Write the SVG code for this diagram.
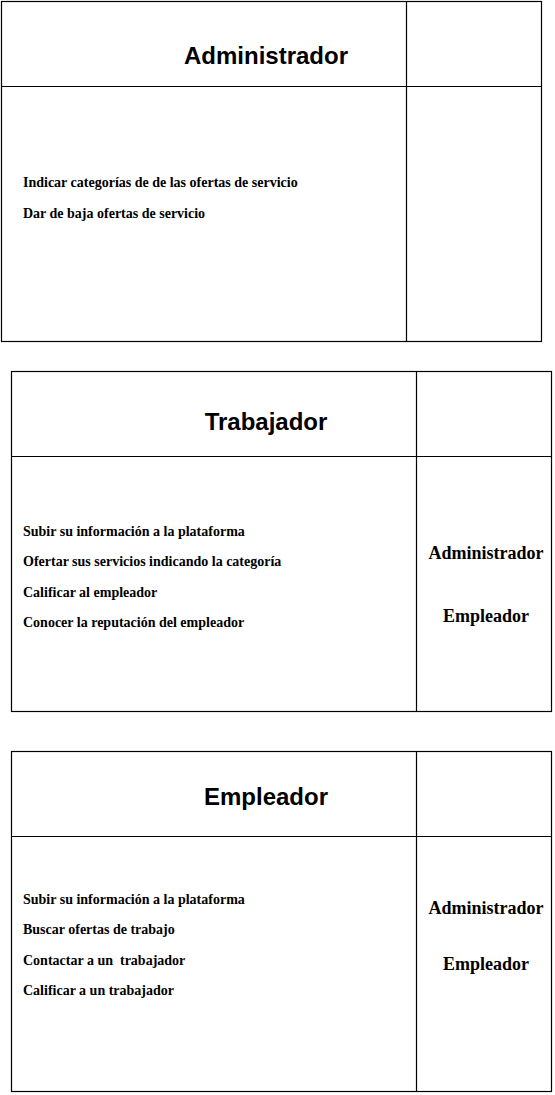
<svg xmlns="http://www.w3.org/2000/svg" width="555" height="1095" viewBox="0 0 555 1095">
<style>
.box{fill:#fff;stroke:#000;stroke-width:1.2}
.ln{stroke:#000;stroke-width:1.2;fill:none}
.title{font-family:"Liberation Sans",Arial,sans-serif;font-weight:bold;font-size:24px;fill:#000;text-anchor:middle}
.item{font-family:"Liberation Serif","Times New Roman",serif;font-weight:bold;font-size:14px;fill:#000}
.actor{font-family:"Liberation Serif","Times New Roman",serif;font-weight:bold;font-size:18px;fill:#000;text-anchor:middle}
</style>
<rect width="555" height="1095" fill="#fff"/>
<g id="card-administrador">
<rect class="box" x="1.5" y="1.5" width="540" height="340"/>
<line class="ln" x1="406.5" y1="1.5" x2="406.5" y2="341.5"/>
<line class="ln" x1="1.5" y1="86.5" x2="541.5" y2="86.5"/>
<text class="title" x="266" y="64">Administrador</text>
<text class="item" x="23" y="187">Indicar categorías de de las ofertas de servicio</text>
<text class="item" x="23" y="218">Dar de baja ofertas de servicio</text>
</g>
<g id="card-trabajador">
<rect class="box" x="11.5" y="371.5" width="540" height="340"/>
<line class="ln" x1="416.5" y1="371.5" x2="416.5" y2="711.5"/>
<line class="ln" x1="11.5" y1="456.5" x2="551.5" y2="456.5"/>
<text class="title" x="266" y="430">Trabajador</text>
<text class="item" x="23" y="536">Subir su información a la plataforma</text>
<text class="item" x="23" y="566">Ofertar sus servicios indicando la categoría</text>
<text class="item" x="23" y="597">Calificar al empleador</text>
<text class="item" x="23" y="627">Conocer la reputación del empleador</text>
<text class="actor" x="486" y="559">Administrador</text>
<text class="actor" x="486" y="622">Empleador</text>
</g>
<g id="card-empleador">
<rect class="box" x="11.5" y="751.5" width="540" height="340"/>
<line class="ln" x1="416.5" y1="751.5" x2="416.5" y2="1091.5"/>
<line class="ln" x1="11.5" y1="836.5" x2="551.5" y2="836.5"/>
<text class="title" x="266" y="805">Empleador</text>
<text class="item" x="23" y="904">Subir su información a la plataforma</text>
<text class="item" x="23" y="934">Buscar ofertas de trabajo</text>
<text class="item" x="23" y="965" xml:space="preserve">Contactar a un  trabajador</text>
<text class="item" x="23" y="995">Calificar a un trabajador</text>
<text class="actor" x="486" y="914">Administrador</text>
<text class="actor" x="486" y="970">Empleador</text>
</g>
<g id="connectors"></g>
</svg>
